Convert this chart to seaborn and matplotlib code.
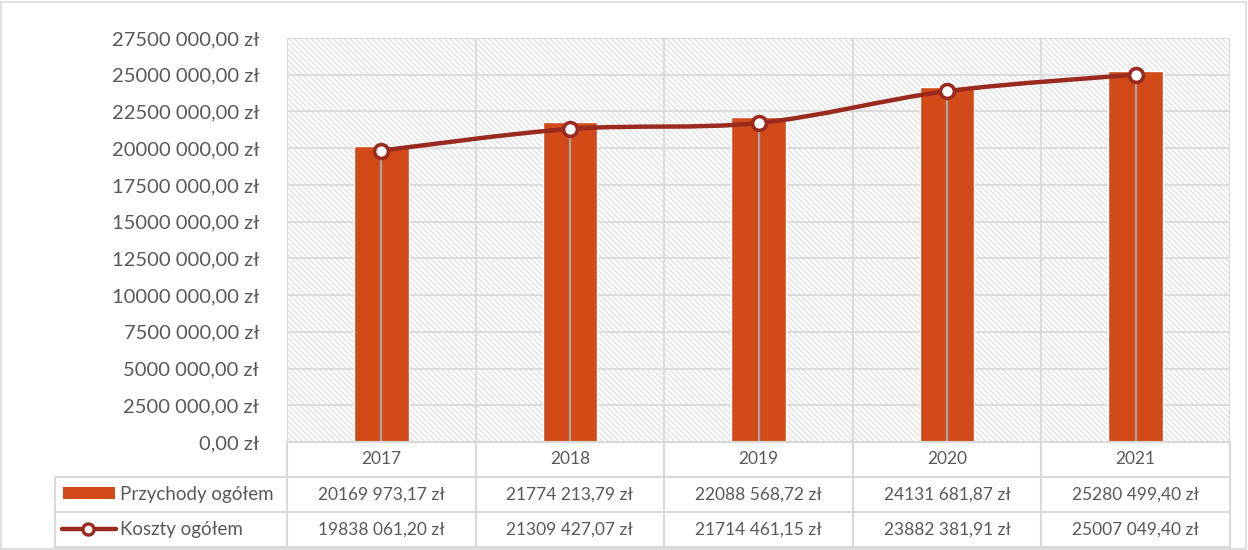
import matplotlib
matplotlib.use("Agg")
import matplotlib.pyplot as plt
from matplotlib.path import Path
from matplotlib.patches import PathPatch, Rectangle
from matplotlib.lines import Line2D
import numpy as np
import seaborn as sns

# Data
years = ["2017", "2018", "2019", "2020", "2021"]
przychody = [20169973.17, 21774213.79, 22088568.72, 24131681.87, 25280499.40]
koszty = [19838061.20, 21309427.07, 21714461.15, 23882381.91, 25007049.40]
series_names = ["Przychody ogółem", "Koszty ogółem"]
y_ticks = np.arange(0, 27501, 2500)

BAR_COLOR = "#D14A18"
LINE_COLOR = "#9B2A1E"
GRID = "#D9D9D9"
TEXT = "#595959"

sns.set_theme(style="white")
plt.rcParams["font.family"] = ["Lato", "DejaVu Sans"]
plt.rcParams["hatch.linewidth"] = 0.9

W, H = 1248, 550
fig = plt.figure(figsize=(W / 100, H / 100), dpi=100)


def fx(px):
    return px / W


def fy(py):
    return 1 - py / H


def pln(v):
    # Excel-style "# ##0,00 zł"
    if v == 0:
        return "0,00 zł"
    cents = int(round(v * 100))
    whole, frac = divmod(cents, 100)
    return f"{whole // 1000} {whole % 1000:03d},{frac:02d} zł"


L, R, T, B = 287, 1230, 38, 442
ax = fig.add_axes([fx(L), fy(B), fx(R) - fx(L), fy(T) - fy(B)])

# hatched plot area background
ax.add_patch(Rectangle((0, 0), 1, 1, transform=ax.transAxes, facecolor="white",
                       edgecolor="#DEDEDE", hatch="\\" * 6, linewidth=0, zorder=0))

sns.barplot(x=years, y=przychody, ax=ax, color=BAR_COLOR, width=0.29,
            saturation=1, zorder=3)

xs = np.arange(len(years))
ys = np.array(koszty)

# drop lines
for x, y in zip(xs, ys):
    ax.plot([x, x], [0, y], color="#A6A6A6", lw=1.6, zorder=4)

# smoothed line (Catmull-Rom as cubic Bezier)
pts = np.column_stack([xs, ys])
verts = [pts[0]]
codes = [Path.MOVETO]
for i in range(len(pts) - 1):
    p0 = pts[i - 1] if i > 0 else pts[i]
    p1, p2 = pts[i], pts[i + 1]
    p3 = pts[i + 2] if i + 2 < len(pts) else pts[i + 1]
    c1 = p1 + (p2 - p0) / 6
    c2 = p2 - (p3 - p1) / 6
    verts += [c1, c2, p2]
    codes += [Path.CURVE4] * 3
ax.add_patch(PathPatch(Path(verts, codes), facecolor="none", edgecolor=LINE_COLOR,
                       lw=3.2, zorder=5, capstyle="round"))
ax.plot(xs, ys, linestyle="none", marker="o", markersize=10, markerfacecolor="white",
        markeredgecolor=LINE_COLOR, markeredgewidth=2.6, zorder=6)

ax.set_xlim(-0.5, len(years) - 0.5)
ax.set_ylim(0, 27500000)
ax.set_yticks(y_ticks * 1000)
ax.set_yticklabels([pln(v * 1000) for v in y_ticks], fontsize=14.5, color=TEXT)
ax.tick_params(axis="y", length=0, pad=20)
ax.set_xticks([])
ax.set_xlabel("")
ax.set_ylabel("")
for yv in y_ticks * 1000:
    ax.axhline(yv, color=GRID, lw=1.3, zorder=1)
for xb in np.arange(-0.5, len(years), 1.0):
    ax.axvline(xb, color=GRID, lw=1.3, zorder=1)
for s in ax.spines.values():
    s.set_visible(False)

# data table below the plot
rows = [442, 477, 512, 547]
col_edges = [L + i * (R - L) / len(years) for i in range(len(years) + 1)]
LEG_L = 55


def hline(x0, x1, y):
    fig.add_artist(Line2D([fx(x0), fx(x1)], [fy(y), fy(y)], color=GRID, lw=1.5))


def vline(x, y0, y1):
    fig.add_artist(Line2D([fx(x), fx(x)], [fy(y0), fy(y1)], color=GRID, lw=1.5))


hline(L, R, rows[0])
hline(LEG_L, R, rows[1])
hline(LEG_L, R, rows[2])
hline(LEG_L, R, rows[3])
for cx in col_edges:
    vline(cx, rows[0], rows[3])
vline(LEG_L, rows[1], rows[3])

for i, yr in enumerate(years):
    cx = (col_edges[i] + col_edges[i + 1]) / 2
    fig.text(fx(cx), fy((rows[0] + rows[1]) / 2), yr, ha="center", va="center",
             fontsize=12.5, color=TEXT)
    fig.text(fx(cx), fy((rows[1] + rows[2]) / 2), pln(przychody[i]), ha="center",
             va="center", fontsize=12.5, color=TEXT)
    fig.text(fx(cx), fy((rows[2] + rows[3]) / 2), pln(koszty[i]), ha="center",
             va="center", fontsize=12.5, color=TEXT)

# legend keys
fig.add_artist(Rectangle((fx(63), fy(499)), fx(115) - fx(63), fy(487) - fy(499),
                         facecolor=BAR_COLOR, edgecolor="none"))
ky = fy(529)
fig.add_artist(Line2D([fx(62), fx(116)], [ky, ky], color=LINE_COLOR, lw=3.2))
fig.add_artist(Line2D([fx(88)], [ky], marker="o", markersize=8, markerfacecolor="white",
                      markeredgecolor=LINE_COLOR, markeredgewidth=2.4, linestyle="none"))
fig.text(fx(120), fy((rows[1] + rows[2]) / 2), series_names[0], ha="left", va="center",
         fontsize=13.5, color=TEXT)
fig.text(fx(120), fy((rows[2] + rows[3]) / 2), series_names[1], ha="left", va="center",
         fontsize=13.5, color=TEXT)

# chart area border
fig.add_artist(Rectangle((fx(1), fy(549)), fx(1245), fy(2) - fy(549), facecolor="none",
                         edgecolor=GRID, lw=1.2))

fig.savefig("out.png", dpi=100)
